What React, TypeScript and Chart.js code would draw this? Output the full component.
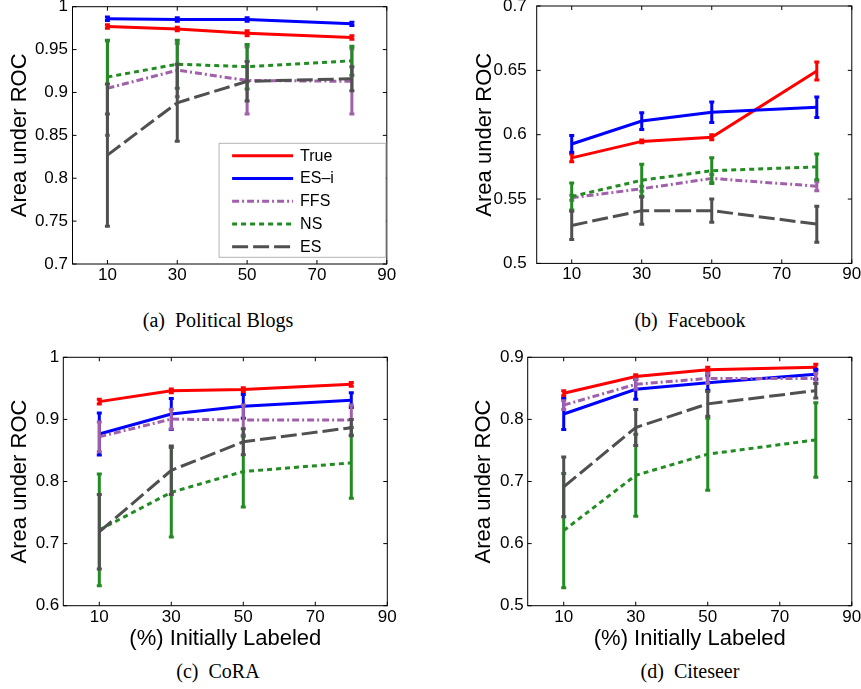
import React, { useEffect, useRef } from 'react';
import { Chart, registerables } from 'chart.js';

Chart.register(...registerables);
Chart.defaults.font.family = '"Liberation Sans", Arial, Helvetica, sans-serif';
Chart.defaults.color = '#000';

// ---------------- data ----------------
const X_VALUES = [10, 30, 50, 80];
const X_TICKS = [10, 30, 50, 70, 90];
const SERIES_LABELS = ['True', 'ES–i', 'FFS', 'NS', 'ES'];
const X_TITLE = '(%) Initially Labeled';
const Y_TITLE = 'Area under ROC';

// (a) Political Blogs
const A_Y_TICKS = [0.7, 0.75, 0.8, 0.85, 0.9, 0.95, 1];
const A_TRUE = [0.977, 0.974, 0.969, 0.964];
const A_TRUE_ERR = [0.002, 0.002, 0.003, 0.002];
const A_ESI = [0.986, 0.985, 0.985, 0.98];
const A_ESI_ERR = [0.002, 0.002, 0.002, 0.002];
const A_FFS = [0.905, 0.926, 0.914, 0.913];
const A_FFS_ERR = [0.055, 0.031, 0.039, 0.038];
const A_NS = [0.918, 0.933, 0.93, 0.937];
const A_NS_ERR = [0.043, 0.028, 0.026, 0.017];
const A_ES = [0.827, 0.888, 0.913, 0.916];
const A_ES_ERR = [0.083, 0.045, 0.023, 0.014];

// (b) Facebook
const B_Y_TICKS = [0.5, 0.55, 0.6, 0.65, 0.7];
const B_TRUE = [0.582, 0.5948, 0.598, 0.6495];
const B_TRUE_ERR = [0.003, 0.001, 0.002, 0.007];
const B_ESI = [0.5928, 0.6106, 0.6174, 0.6213];
const B_ESI_ERR = [0.0065, 0.0065, 0.008, 0.008];
const B_FFS = [0.551, 0.558, 0.566, 0.56];
const B_FFS_ERR = [0.002, 0.002, 0.003, 0.0035];
const B_NS = [0.552, 0.5646, 0.572, 0.575];
const B_NS_ERR = [0.0105, 0.0125, 0.01, 0.01];
const B_ES = [0.5295, 0.541, 0.541, 0.5305];
const B_ES_ERR = [0.011, 0.0105, 0.009, 0.014];

// (c) CoRA
const C_Y_TICKS = [0.6, 0.7, 0.8, 0.9, 1];
const C_TRUE = [0.9286, 0.946, 0.948, 0.9565];
const C_TRUE_ERR = [0.004, 0.003, 0.003, 0.003];
const C_ESI = [0.8765, 0.9087, 0.921, 0.931];
const C_ESI_ERR = [0.034, 0.025, 0.019, 0.012];
const C_FFS = [0.872, 0.9005, 0.899, 0.899];
const C_FFS_ERR = [0.024, 0.016, 0.024, 0.024];
const C_NS = [0.722, 0.7826, 0.816, 0.83];
const C_NS_ERR = [0.09, 0.072, 0.057, 0.057];
const C_ES = [0.719, 0.818, 0.864, 0.8867];
const C_ES_ERR = [0.06, 0.039, 0.021, 0.013];

// (d) Citeseer
const D_Y_TICKS = [0.5, 0.6, 0.7, 0.8, 0.9];
const D_TRUE = [0.842, 0.869, 0.88, 0.884];
const D_TRUE_ERR = [0.004, 0.003, 0.004, 0.005];
const D_ESI = [0.8087, 0.8484, 0.859, 0.8726];
const D_ESI_ERR = [0.025, 0.016, 0.012, 0.008];
const D_FFS = [0.823, 0.8565, 0.866, 0.866];
const D_FFS_ERR = [0.007, 0.008, 0.008, 0.008];
const D_NS = [0.621, 0.71, 0.744, 0.767];
const D_NS_ERR = [0.092, 0.066, 0.058, 0.06];
const D_ES = [0.6914, 0.787, 0.825, 0.8463];
const D_ES_ERR = [0.048, 0.029, 0.02, 0.012];

// ---------------- styles ----------------
const SERIES_STYLE = [
  { color: 'rgb(255,0,0)', dash: [] as number[] },
  { color: 'rgb(0,0,255)', dash: [] as number[] },
  { color: 'rgb(160,96,170)', dash: [7, 3, 2, 3] },
  { color: 'rgb(34,139,34)', dash: [5, 4] },
  { color: 'rgb(80,80,80)', dash: [16, 5] },
];

type Box = { x: number; y: number; w: number; h: number };
type Area = { l: number; r: number; t: number; b: number };
type PanelCfg = {
  caption: string;
  yTicks: number[];
  series: number[][];
  errors: number[][];
  xTitle: boolean;
  legend: boolean;
  box: Box;
  area: Area;
  yTitleX: number;
  yTickPad: number;
  capX: number;
  capBaseline: number;
};

const PANELS: PanelCfg[] = [
  {
    caption: '(a)\u00a0\u00a0Political Blogs',
    yTicks: A_Y_TICKS,
    series: [A_TRUE, A_ESI, A_FFS, A_NS, A_ES],
    errors: [A_TRUE_ERR, A_ESI_ERR, A_FFS_ERR, A_NS_ERR, A_ES_ERR],
    xTitle: false,
    legend: true,
    box: { x: 0, y: 0, w: 430, h: 300 },
    area: { l: 72.5, r: 386.8, t: 6.7, b: 264 },
    yTitleX: 20,
    yTickPad: 4.5,
    capX: 218,
    capBaseline: 327,
  },
  {
    caption: '(b)\u00a0\u00a0Facebook',
    yTicks: B_Y_TICKS,
    series: [B_TRUE, B_ESI, B_FFS, B_NS, B_ES],
    errors: [B_TRUE_ERR, B_ESI_ERR, B_FFS_ERR, B_NS_ERR, B_ES_ERR],
    xTitle: false,
    legend: false,
    box: { x: 430, y: 0, w: 431, h: 300 },
    area: { l: 536.7, r: 851.8, t: 6, b: 263.4 },
    yTitleX: 55,
    yTickPad: 10,
    capX: 690,
    capBaseline: 327,
  },
  {
    caption: '(c)\u00a0\u00a0CoRA',
    yTicks: C_Y_TICKS,
    series: [C_TRUE, C_ESI, C_FFS, C_NS, C_ES],
    errors: [C_TRUE_ERR, C_ESI_ERR, C_FFS_ERR, C_NS_ERR, C_ES_ERR],
    xTitle: true,
    legend: false,
    box: { x: 0, y: 340, w: 430, h: 320 },
    area: { l: 63.3, r: 387.3, t: 357.3, b: 605.7 },
    yTitleX: 20,
    yTickPad: 4,
    capX: 218,
    capBaseline: 678,
  },
  {
    caption: '(d)\u00a0\u00a0Citeseer',
    yTicks: D_Y_TICKS,
    series: [D_TRUE, D_ESI, D_FFS, D_NS, D_ES],
    errors: [D_TRUE_ERR, D_ESI_ERR, D_FFS_ERR, D_NS_ERR, D_ES_ERR],
    xTitle: true,
    legend: false,
    box: { x: 430, y: 340, w: 431, h: 320 },
    area: { l: 527.7, r: 851.8, t: 357.3, b: 605.7 },
    yTitleX: 54,
    yTickPad: 4,
    capX: 690,
    capBaseline: 678,
  },
];

// ---------------- plugins ----------------
const errorBarPlugin = {
  id: 'errorBars',
  afterDatasetDraw(chart: any, args: any) {
    const ds = chart.data.datasets[args.index];
    const errs: number[] | undefined = ds.errors;
    if (!errs) return;
    const ctx = chart.ctx;
    const yS = chart.scales.y;
    ctx.save();
    ctx.strokeStyle = ds.borderColor;
    ctx.lineWidth = 3;
    ctx.setLineDash([]);
    ctx.lineCap = 'butt';
    args.meta.data.forEach((pt: any, i: number) => {
      const v = ds.data[i].y;
      const e = errs[i];
      const y1 = yS.getPixelForValue(v + e);
      const y2 = yS.getPixelForValue(v - e);
      ctx.beginPath();
      ctx.moveTo(pt.x, y1);
      ctx.lineTo(pt.x, y2);
      ctx.moveTo(pt.x - 2.5, y1);
      ctx.lineTo(pt.x + 2.5, y1);
      ctx.moveTo(pt.x - 2.5, y2);
      ctx.lineTo(pt.x + 2.5, y2);
      ctx.stroke();
    });
    ctx.restore();
  },
};

const framePlugin = {
  id: 'frameTicks',
  afterDraw(chart: any) {
    const { left, right, top, bottom } = chart.chartArea;
    const ctx = chart.ctx;
    const xS = chart.scales.x;
    const yS = chart.scales.y;
    const tl = 4;
    ctx.save();
    ctx.strokeStyle = '#000';
    ctx.lineWidth = 1;
    ctx.setLineDash([]);
    ctx.strokeRect(left, top, right - left, bottom - top);
    ctx.beginPath();
    xS.ticks.forEach((t: any) => {
      const px = xS.getPixelForValue(t.value);
      ctx.moveTo(px, bottom);
      ctx.lineTo(px, bottom - tl);
      ctx.moveTo(px, top);
      ctx.lineTo(px, top + tl);
    });
    yS.ticks.forEach((t: any) => {
      const py = yS.getPixelForValue(t.value);
      ctx.moveTo(left, py);
      ctx.lineTo(left + tl, py);
      ctx.moveTo(right, py);
      ctx.lineTo(right - tl, py);
    });
    ctx.stroke();
    ctx.restore();
  },
};

const boxLegendPlugin = {
  id: 'boxLegend',
  afterDraw(chart: any) {
    const { right, bottom } = chart.chartArea;
    const ctx = chart.ctx;
    const w = 166.7;
    const h = 114;
    const x0 = right - 1 - w;
    const y0 = bottom - 6.7 - h;
    ctx.save();
    ctx.fillStyle = '#fff';
    ctx.fillRect(x0, y0, w, h);
    ctx.strokeStyle = '#b4b4b4';
    ctx.lineWidth = 1;
    ctx.strokeRect(x0, y0, w, h);
    chart.data.datasets.forEach((ds: any, i: number) => {
      const y = y0 + 12.4 + i * 22.75;
      ctx.strokeStyle = ds.borderColor;
      ctx.lineWidth = 3;
      ctx.lineCap = 'butt';
      ctx.setLineDash(ds.borderDash || []);
      ctx.beginPath();
      ctx.moveTo(x0 + 13, y);
      ctx.lineTo(x0 + 74, y);
      ctx.stroke();
      ctx.setLineDash([]);
      ctx.fillStyle = '#000';
      ctx.font = '16px "Liberation Sans", Arial, sans-serif';
      ctx.textBaseline = 'middle';
      ctx.textAlign = 'left';
      ctx.fillText(ds.label, x0 + 81, y + 0.5);
    });
    ctx.restore();
  },
};

function fmtTick(v: number) {
  return String(Number(Number(v).toFixed(3)));
}

function buildConfig(cfg: PanelCfg): any {
  const padBottom = cfg.xTitle ? 8 : 0;
  const yWidth = cfg.area.l - cfg.box.x;
  const xHeight = cfg.box.y + cfg.box.h - padBottom - cfg.area.b;
  const datasets = SERIES_LABELS.map((label, i) => ({
    label,
    data: X_VALUES.map((x, j) => ({ x, y: cfg.series[i][j] })),
    errors: cfg.errors[i],
    borderColor: SERIES_STYLE[i].color,
    backgroundColor: SERIES_STYLE[i].color,
    borderWidth: 3,
    borderDash: SERIES_STYLE[i].dash,
    borderCapStyle: 'butt',
    pointRadius: 0,
    pointHoverRadius: 0,
    fill: false,
    tension: 0,
    order: SERIES_LABELS.length - i,
  }));
  const plugins: any[] = [errorBarPlugin, framePlugin];
  if (cfg.legend) plugins.push(boxLegendPlugin);
  return {
    type: 'line',
    data: { datasets },
    plugins,
    options: {
      responsive: false,
      maintainAspectRatio: false,
      animation: false,
      events: [],
      layout: {
        padding: {
          left: 0,
          top: cfg.area.t - cfg.box.y,
          right: cfg.box.x + cfg.box.w - cfg.area.r,
          bottom: padBottom,
        },
      },
      plugins: {
        legend: { display: false },
        title: { display: false },
        tooltip: { enabled: false },
      },
      scales: {
        x: {
          type: 'linear',
          min: 0,
          max: 90,
          offset: false,
          grid: { display: false, drawTicks: false },
          border: { display: false },
          ticks: {
            font: { size: 17 },
            color: '#000',
            padding: 1,
            maxRotation: 0,
            autoSkip: false,
            callback: (v: number) => String(v),
          },
          afterBuildTicks: (scale: any) => {
            scale.ticks = X_TICKS.map((v) => ({ value: v }));
          },
          afterFit: (scale: any) => {
            scale.height = xHeight;
            scale.paddingLeft = 0;
            scale.paddingRight = 0;
          },
          title: {
            display: cfg.xTitle,
            text: X_TITLE,
            font: { size: 22 },
            color: '#000',
            padding: { top: 0, bottom: 0 },
          },
        },
        y: {
          type: 'linear',
          min: cfg.yTicks[0],
          max: cfg.yTicks[cfg.yTicks.length - 1],
          grid: { display: false, drawTicks: false },
          border: { display: false },
          ticks: {
            font: { size: 17 },
            color: '#000',
            padding: cfg.yTickPad,
            autoSkip: false,
            callback: (v: number) => fmtTick(v),
          },
          afterBuildTicks: (scale: any) => {
            scale.ticks = cfg.yTicks.map((v) => ({ value: v }));
          },
          afterFit: (scale: any) => {
            scale.width = yWidth;
            scale.paddingTop = 0;
            scale.paddingBottom = 0;
          },
          title: {
            display: true,
            text: Y_TITLE,
            font: { size: 22 },
            color: '#000',
            padding: { top: cfg.yTitleX - 13.2, bottom: 0 },
          },
        },
      },
    },
  };
}

function Panel({ cfg }: { cfg: PanelCfg }) {
  const ref = useRef<HTMLCanvasElement>(null);
  useEffect(() => {
    if (!ref.current) return;
    const chart = new Chart(ref.current, buildConfig(cfg));
    return () => chart.destroy();
  }, [cfg]);
  return (
    <canvas
      ref={ref}
      width={cfg.box.w}
      height={cfg.box.h}
      style={{
        position: 'absolute',
        left: cfg.box.x,
        top: cfg.box.y,
        width: cfg.box.w,
        height: cfg.box.h,
      }}
    />
  );
}

export default function App() {
  return (
    <div
      style={{
        position: 'absolute',
        left: 0,
        top: 0,
        width: 861,
        height: 689,
        background: '#fff',
        overflow: 'hidden',
      }}
    >
      {PANELS.map((p, i) => (
        <Panel key={i} cfg={p} />
      ))}
      {PANELS.map((p, i) => (
        <div
          key={'c' + i}
          style={{
            position: 'absolute',
            left: p.capX - 150,
            width: 300,
            top: p.capBaseline - 16.75,
            fontFamily: '"Liberation Serif", "Times New Roman", serif',
            fontSize: 20,
            lineHeight: '20px',
            textAlign: 'center',
            whiteSpace: 'nowrap',
            color: '#000',
          }}
        >
          {p.caption}
        </div>
      ))}
    </div>
  );
}
